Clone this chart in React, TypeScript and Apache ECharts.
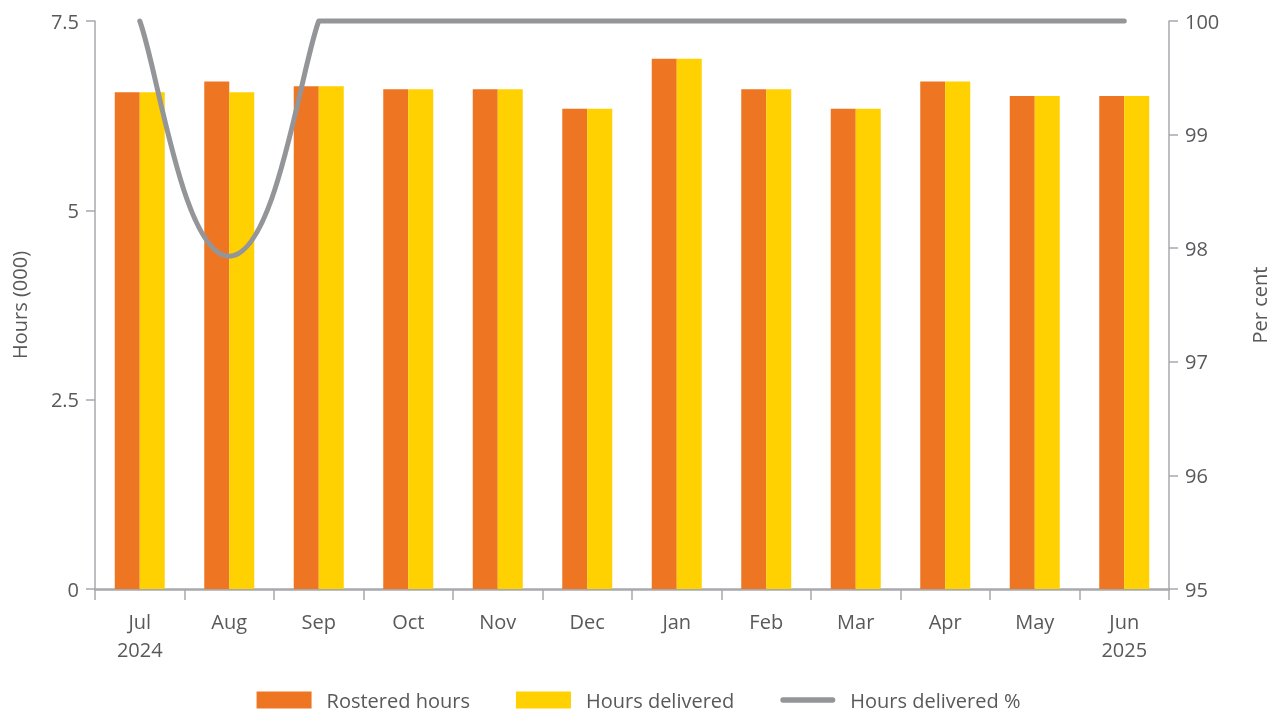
import React, { useEffect, useRef } from "react";
import * as echarts from "echarts";

// Months of the reporting year (Jul 2024 – Jun 2025)
const months = ["Jul\n2024", "Aug", "Sep", "Oct", "Nov", "Dec", "Jan", "Feb", "Mar", "Apr", "May", "Jun\n2025"];

// Hours in thousands
const rosteredHours = [6.56, 6.7, 6.64, 6.6, 6.6, 6.34, 7.0, 6.6, 6.34, 6.7, 6.51, 6.51];
const deliveredHours = [6.56, 6.56, 6.64, 6.6, 6.6, 6.34, 7.0, 6.6, 6.34, 6.7, 6.51, 6.51];

// Share of rostered hours delivered, per cent
const deliveredPct = [100, 97.93, 100, 100, 100, 100, 100, 100, 100, 100, 100, 100];

const hoursTicks = { min: 0, max: 7.5, interval: 2.5 };
const pctTicks = { min: 95, max: 100, interval: 1 };

const ORANGE = "#EE7623";
const YELLOW = "#FFD100";
const GREY = "#939598";
const TEXT = "#58595B";
const AXIS = "#A7A9AC";
const FONT = "'Open Sans', sans-serif";

type Pt = [number, number];

// Builds a smoothed SVG path through pixel points. Turning points get a flat
// tangent; where a sloped run meets a flat run the curve bends sharply.
function smoothPath(pts: Pt[]): string {
  const flatK = 0.52;
  const slopeK = 0.2;
  const n = pts.length;
  const cpIn: Pt[] = [];
  const cpOut: Pt[] = [];
  for (let i = 0; i < n; i++) {
    const [x, y] = pts[i];
    const prev = i > 0 ? pts[i - 1] : null;
    const next = i < n - 1 ? pts[i + 1] : null;
    const dp: Pt = prev ? [x - prev[0], y - prev[1]] : [0, 0];
    const dn: Pt = next ? [next[0] - x, next[1] - y] : [0, 0];
    const flatPrev = Math.abs(dp[1]) < 0.5;
    const flatNext = Math.abs(dn[1]) < 0.5;
    if (!prev) {
      cpIn.push([x, y]);
      cpOut.push([x + dn[0] * slopeK, y + dn[1] * slopeK]);
      continue;
    }
    if (!next) {
      cpIn.push(flatPrev ? [x - dp[0] * flatK, y] : [x - dp[0] * slopeK, y - dp[1] * slopeK]);
      cpOut.push([x, y]);
      continue;
    }
    const turning = !flatPrev && !flatNext && Math.sign(dp[1]) !== Math.sign(dn[1]);
    if (turning || (flatPrev && flatNext)) {
      cpIn.push([x - dp[0] * flatK, y]);
      cpOut.push([x + dn[0] * flatK, y]);
    } else if (flatNext) {
      cpIn.push([x - dp[0] * slopeK, y - dp[1] * slopeK]);
      cpOut.push([x + dn[0] * flatK, y]);
    } else if (flatPrev) {
      cpIn.push([x - dp[0] * flatK, y]);
      cpOut.push([x + dn[0] * slopeK, y + dn[1] * slopeK]);
    } else {
      const tx = (next[0] - prev[0]) / 2;
      const ty = (next[1] - prev[1]) / 2;
      cpIn.push([x - tx * flatK, y - ty * flatK]);
      cpOut.push([x + tx * flatK, y + ty * flatK]);
    }
  }
  let d = `M${pts[0][0]},${pts[0][1]}`;
  for (let i = 1; i < n; i++) {
    const a = cpOut[i - 1];
    const b = cpIn[i];
    d += ` C${a[0]},${a[1]} ${b[0]},${b[1]} ${pts[i][0]},${pts[i][1]}`;
  }
  return d;
}

export default function App() {
  const ref = useRef<HTMLDivElement>(null);

  useEffect(() => {
    if (!ref.current) return;
    const chart = echarts.init(ref.current, undefined, { renderer: "svg" });

    const axisLine = { show: true, lineStyle: { color: AXIS, width: 1.5 } };
    const axisTick = { show: true, length: 9, lineStyle: { color: AXIS, width: 1.5 } };
    const label = { color: TEXT, fontSize: 20, fontFamily: FONT };

    chart.setOption({
      animation: false,
      textStyle: { fontFamily: FONT },
      grid: { left: 95, right: 104, top: 21, bottom: 124, containLabel: false },
      legend: {
        bottom: -2,
        left: "center",
        itemWidth: 55,
        itemHeight: 17,
        itemGap: 46,
        textStyle: { color: TEXT, fontSize: 20, fontFamily: FONT, padding: [0, 0, 0, 10] },
        data: [
          { name: "Rostered hours", icon: "rect", itemStyle: { color: ORANGE } },
          { name: "Hours delivered", icon: "rect", itemStyle: { color: YELLOW } },
          {
            name: "Hours delivered %",
            icon: "path://M3,0 h56 a3,3 0 0 1 0,6 h-56 a3,3 0 0 1 0,-6 z",
            itemStyle: { color: GREY },
          },
        ],
      },
      xAxis: {
        type: "category",
        data: months,
        boundaryGap: true,
        axisLine: { show: true, lineStyle: { color: AXIS, width: 2.5 } },
        axisTick: { show: true, length: 11, alignWithLabel: false, lineStyle: { color: AXIS, width: 1.5 } },
        axisLabel: { ...label, margin: 18, lineHeight: 28, interval: 0 },
      },
      yAxis: [
        {
          type: "value",
          ...hoursTicks,
          name: "Hours (000)",
          nameLocation: "middle",
          nameGap: 66,
          nameTextStyle: { color: TEXT, fontSize: 20, fontFamily: FONT },
          axisLine,
          axisTick,
          splitLine: { show: false },
          axisLabel: { ...label, margin: 16 },
        },
        {
          type: "value",
          ...pctTicks,
          name: "Per cent",
          nameLocation: "middle",
          nameGap: 80,
          nameRotate: 90,
          nameTextStyle: { color: TEXT, fontSize: 20, fontFamily: FONT },
          position: "right",
          axisLine,
          axisTick,
          splitLine: { show: false },
          axisLabel: { ...label, margin: 16 },
        },
      ],
      series: [
        {
          name: "Rostered hours",
          type: "bar",
          data: rosteredHours,
          barWidth: 25,
          barGap: "0%",
          itemStyle: { color: ORANGE },
        },
        {
          name: "Hours delivered",
          type: "bar",
          data: deliveredHours,
          barWidth: 25,
          barGap: "0%",
          itemStyle: { color: YELLOW },
        },
        {
          name: "Hours delivered %",
          type: "custom",
          yAxisIndex: 1,
          data: deliveredPct.map((v, i) => [i, v]),
          encode: { x: 0, y: 1 },
          itemStyle: { color: GREY },
          z: 5,
          renderItem: (params: any, api: any) => {
            // The whole curve is drawn once, from the first data item
            if (params.dataIndex !== 0) return null;
            const pts: Pt[] = deliveredPct.map((v, i) => api.coord([i, v]) as Pt);
            return {
              type: "path",
              shape: { pathData: smoothPath(pts) },
              style: {
                fill: "none",
                stroke: GREY,
                lineWidth: 5,
                lineCap: "round",
                lineJoin: "round",
              },
            };
          },
        },
      ],
    });

    return () => chart.dispose();
  }, []);

  return <div ref={ref} style={{ position: "fixed", left: 0, top: 0, width: 1277, height: 713 }} />;
}
